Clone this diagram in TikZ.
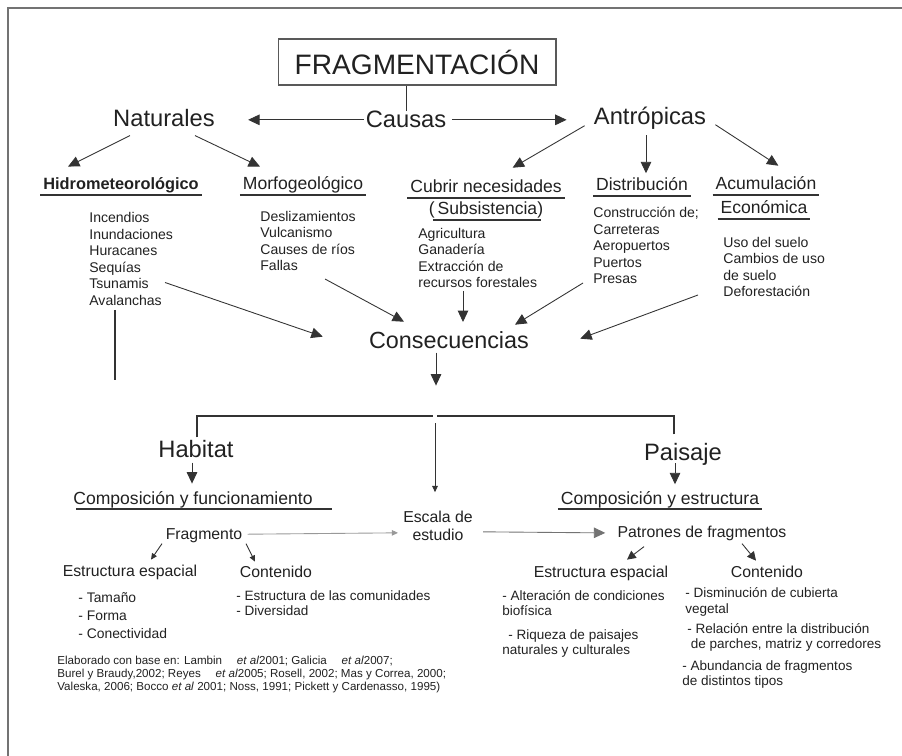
\documentclass[tikz,border=0pt]{standalone}
\usepackage{fontspec}
\setmainfont{Liberation Sans}
\usepackage{xcolor}
\usepackage{tikz}
\usetikzlibrary{positioning, calc, arrows.meta}
\definecolor{inkgray}{rgb}{0.13, 0.13, 0.13}
\definecolor{linegray}{rgb}{0.2, 0.2, 0.2}

\begin{document}
\begin{tikzpicture}[x=0.02cm, y=-0.02cm, every node/.style={inner sep=0pt, text=inkgray}]
		\tikzstyle{big}=[font=\fontsize{13.5}{16}\selectfont, anchor=base]
		\tikzstyle{headtxt}=[font=\fontsize{10}{12}\selectfont, anchor=base, inner xsep=1.5pt, text depth=0.24em]
		\tikzstyle{lst}=[font=\fontsize{8}{9.4}\selectfont, align=left, anchor=base west]
		\tikzstyle{midtxt}=[font=\fontsize{9}{9.7}\selectfont, anchor=base]
		\tikzstyle{sml}=[font=\fontsize{7.7}{8}\selectfont, align=left, anchor=base west]
		\tikzstyle{arr}=[draw=linegray, line width=0.5pt, -{Triangle[length=6.5pt, width=6pt]}]
		\tikzstyle{arrs}=[draw=linegray, line width=0.5pt, -{Triangle[length=3.5pt, width=3.2pt]}]
		\tikzstyle{ulin}=[draw=linegray, line width=1.1pt]
		
		\useasboundingbox (0,0) rectangle (902,756);
		\draw[black!55, line width=0.7pt] (8,756) -- (8,8) -- (902,8);
		
		%% causas
		\node[draw=black!65, line width=0.6pt, minimum width=5.56cm, minimum height=0.92cm, font=\fontsize{16}{19}\selectfont] (frag) at (417,62) {FRAGMENTACIÓN};
		\node[big] (causas) at (406,128) {Causas};
		\node[big] (natu) at (164,127) {Naturales};
		\node[big] (antro) at (650,125) {Antrópicas};
		\draw[linegray, line width=0.5pt] (causas.north) -- (causas.north |- frag.south);
		\draw[arr, shorten <=1pt, shorten >=0.66cm] (causas.west) -- (natu.east |- causas.west);
		\draw[arr, shorten <=3pt, shorten >=0.54cm] (causas.east) -- (antro.west |- causas.east);
		
		\node[headtxt, font=\fontsize{9.3}{12}\selectfont\bfseries] (hidro) at (121,190) {Hidrometeorológico};
		\node[headtxt] (morfo) at (303,190) {Morfogeológico};
		\node[headtxt] (cubrir) at (486,193) {Cubrir necesidades};
		\node[headtxt] (subs) at (486,215) {(\,Subsistencia)};
		\node[headtxt] (distr) at (642,191) {Distribución};
		\node[headtxt] (acum) at (766,190) {Acumulación};
		\node[headtxt] (econ) at (764,214) {Económica};
		\foreach \n in {hidro, morfo, cubrir, distr, acum, econ}
		\draw[ulin] (\n.south west) -- (\n.south east);
		\draw[ulin] ([shift={(7,0)}]subs.south west) -- ([shift={(-5,0)}]subs.south east);
		
		\draw[arr] ([shift={(-34,8)}]natu.south) -- ++(-62,31);
		\draw[arr] ([shift={(31,8)}]natu.south) -- ++(65,31);
		\draw[arr] ([shift={(-9,7)}]antro.west) -- ++(-72,42);
		\draw[arr] ([shift={(-4,5)}]antro.south) -- ++(0,38);
		\draw[arr] ([shift={(9,6)}]antro.east) -- ++(63,41);
		
		%% base = last line of each list
		\node[lst] (hidrol) at (89,305.5) {Incendios\\Inundaciones\\Huracanes\\Sequías\\Tsunamis\\Avalanchas};
		\node[lst] (morfol) at (260,271) {Deslizamientos\\Vulcanismo\\Causes de ríos\\Fallas};
		\node[lst] (cubril) at (418,288) {Agricultura\\Ganadería\\Extracción de\\recursos forestales};
		\node[lst] (distrl) at (593,284) {Construcción de;\\Carreteras\\Aeropuertos\\Puertos\\Presas};
		\node[lst] (acuml) at (723,297) {Uso del suelo\\Cambios de uso\\de suelo\\Deforestación};
		
		%% consecuencias
		\node[big, font=\fontsize{13.3}{16}\selectfont] (conse) at (449,349) {Consecuencias};
		\draw[arr] ([shift={(76,-23)}]hidrol.base west) -- ([shift={(-46,-4)}]conse.west);
		\draw[arr] ([shift={(65,8)}]morfol.base west) -- ([shift={(-45,-10)}]conse.north);
		\draw[arr] ([shift={(45,3)}]cubril.base west) -- ++(0,31);
		\draw[arr] ([shift={(-10,-1)}]distrl.base west) -- ([shift={(66,-7)}]conse.north);
		\draw[arr] ([shift={(-25,-2)}]acuml.base west) -- ([shift={(51,-2)}]conse.east);
		\draw[linegray, line width=0.8pt] ([shift={(26,4)}]hidrol.south west) -- ++(0,70);
		\draw[arr] ([shift={(-13,3)}]conse.south) -- ++(0,33);
		
		\node[big] (hab) at (196,458) {Habitat};
		\node[big] (pais) at (683,460) {Paisaje};
		\draw[ulin] ([shift={(1,-3)}]hab.north) -- ++(0,-21) -- ++(236,0);
		\draw[ulin] ([shift={(-9,-8)}]pais.north) -- ++(0,-18) -- ++(-237,0);
		\draw[arr] ([shift={(-4,4)}]hab.south) -- ++(0,21);
		\draw[arr] ([shift={(-8,-2)}]pais.south) -- ++(0,21);
		
		\node[headtxt] (cyf) at (193,504) {Composición y funcionamiento};
		\node[headtxt] (ces) at (660,504) {Composición y estructura};
		\draw[ulin] ([shift={(6,0)}]cyf.south west) -- ([shift={(16,0)}]cyf.south east);
		\draw[ulin] (ces.south west) -- (ces.south east);
		
		\node[midtxt] (frgm) at (204,539) {Fragmento};
		\node[midtxt, align=center] (escala) at (438,540) {Escala de\\estudio};
		\node[midtxt] (patr) at (702,537) {Patrones de fragmentos};
		\draw[arrs] ([shift={(-3,-88)}]escala.north) -- ([shift={(-3,-19)}]escala.north);
		\draw[arrs, draw=black!40] ([shift={(5,-1)}]frgm.east) -- ([shift={(-5,7)}]escala.west);
		\draw[arr, draw=black!55] ([shift={(10,6)}]escala.east) -- ([shift={(-12,0)}]patr.west);
		
		\draw[arrs] ([shift={(-42,1)}]frgm.south) -- ++(-11,16);
		\draw[arrs] ([shift={(42,1)}]frgm.south) -- ++(9,18);
		\draw[arrs, -{Triangle[length=5pt, width=5pt]}] ([shift={(-58,6)}]patr.south) -- ++(-17,13);
		\draw[arrs, -{Triangle[length=5pt, width=5pt]}] ([shift={(40,3)}]patr.south) -- ++(14,17);
		
		\node[midtxt] (eesp1) at (130,576) {Estructura espacial};
		\node[midtxt] (cont1) at (276,577) {Contenido};
		\node[midtxt] (eesp2) at (601,577) {Estructura espacial};
		\node[midtxt] (cont2) at (767,577) {Contenido};
		
		\node[sml, font=\fontsize{7.9}{10}\selectfont] (tam) at (78,638) {- Tamaño\\- Forma\\- Conectividad};
		\node[sml] (comu) at (236,615) {- Estructura de las comunidades\\- Diversidad};
		\node[sml] (alter) at (502,615) {- Alteración de condiciones\\biofísica};
		\node[sml] (riq) at (502,654) {\hspace{3.4pt}- Riqueza de paisajes\\naturales y culturales};
		\node[sml, font=\fontsize{7.7}{9}\selectfont] (dism) at (685,613) {- Disminución de cubierta\\vegetal};
		\node[sml] (rela) at (687,648) {- Relación entre la distribución\\\hspace{2pt}de parches, matriz y corredores};
		\node[sml] (abun) at (682,685) {- Abundancia de fragmentos\\de distintos tipos};
		
		%% fuentes
		\node[sml, font=\fontsize{6.6}{7.4}\selectfont] (fuente) at (57,690) {Elaborado con base en: Lambin \quad\textit{et al}2001; Galicia \quad\textit{et al}2007;\\Burel y Braudy,2002; Reyes \quad\textit{et al}2005; Rosell, 2002; Mas y Correa, 2000;\\Valeska, 2006; Bocco \textit{et al} 2001; Noss, 1991; Pickett y Cardenasso, 1995)};
\end{tikzpicture}
\end{document}
